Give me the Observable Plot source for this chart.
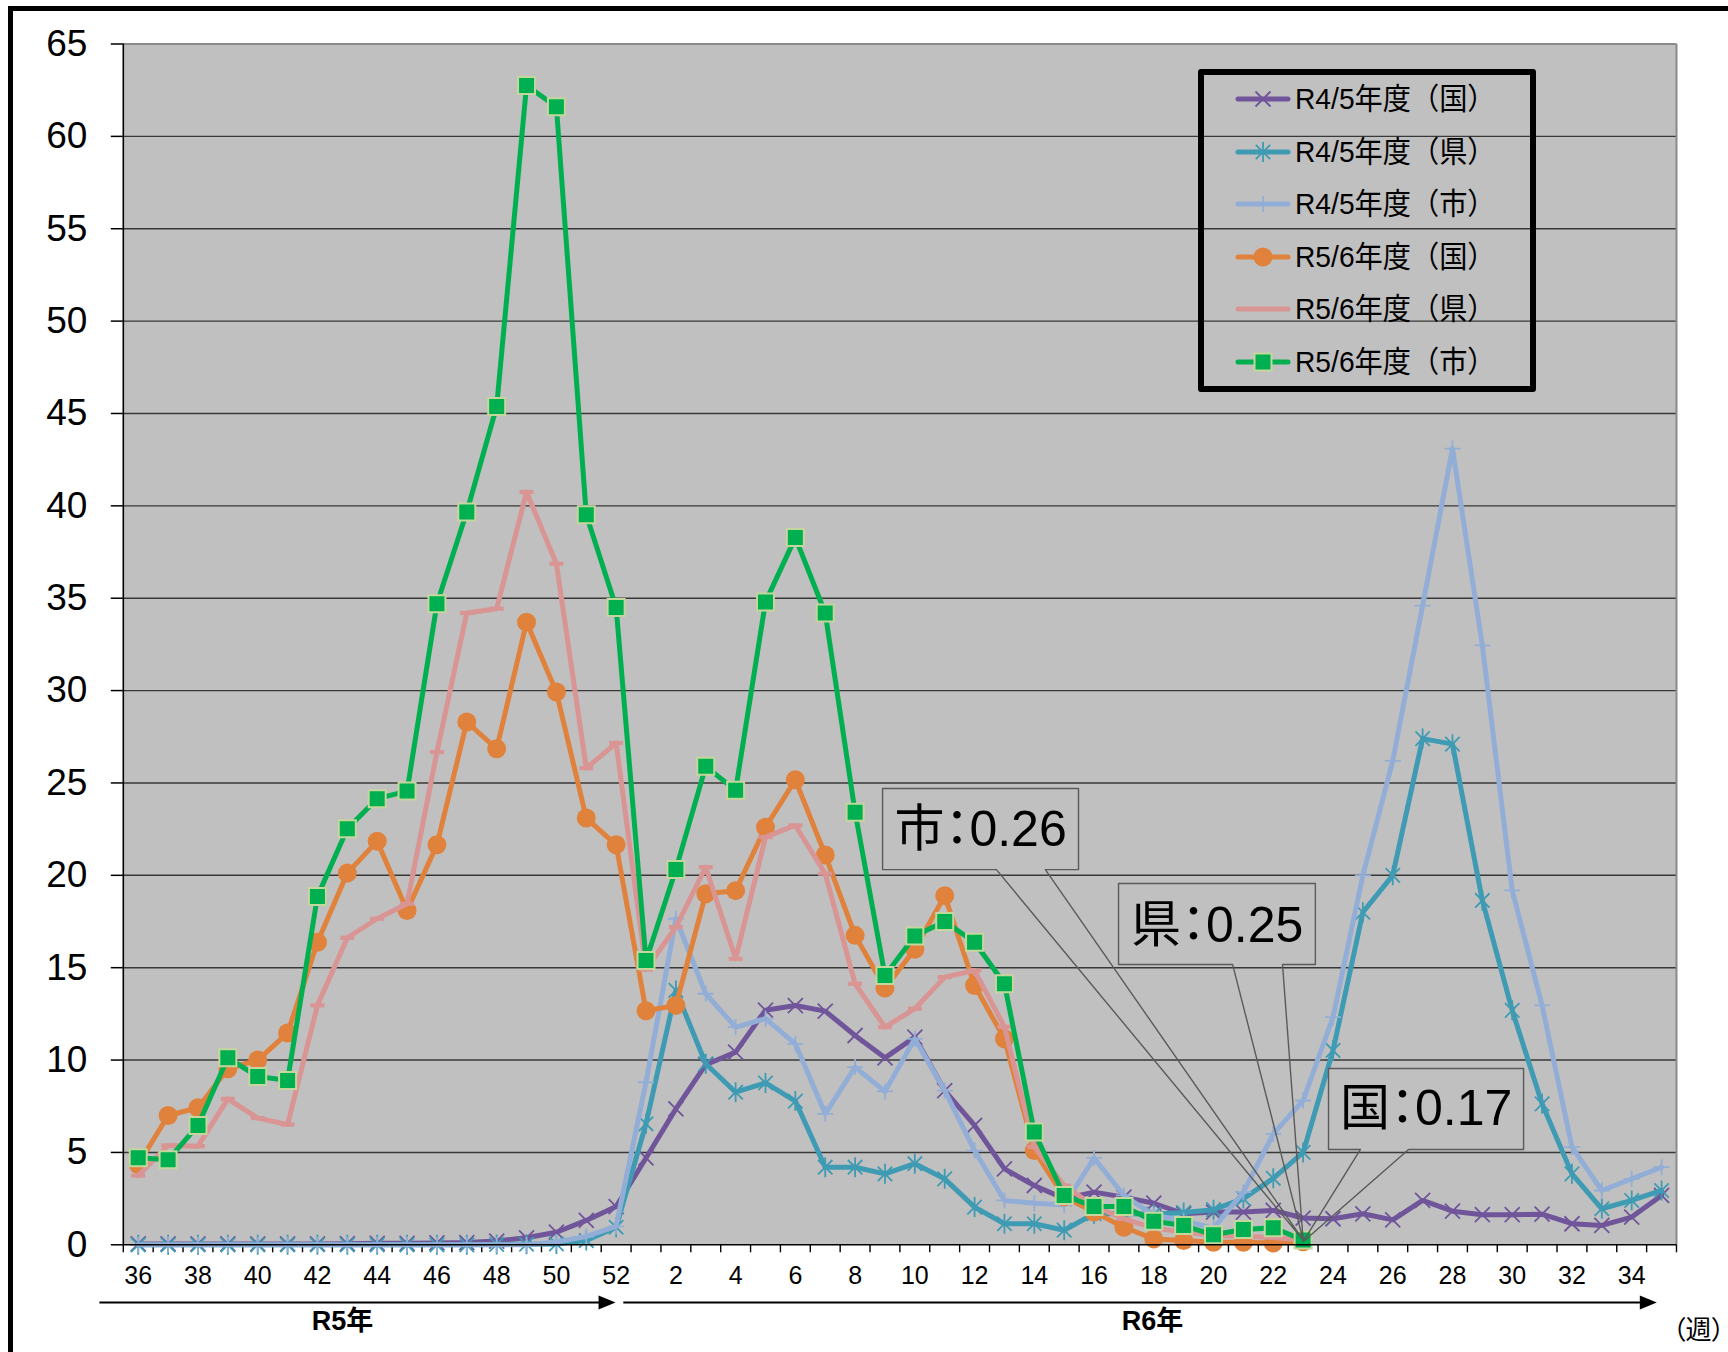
<!DOCTYPE html>
<html>
<head>
<meta charset="utf-8">
<script src="https://cdn.jsdelivr.net/npm/d3@7"></script>
<script src="https://cdn.jsdelivr.net/npm/@observablehq/plot@0.6"></script>
<style>
  body { margin: 0; background: #fff; }
  #wrap { position: relative; width: 1728px; height: 1352px; overflow: hidden; background: #fff; }
  #wrap > svg { position: absolute; left: 0; top: 0; }
  #frame { position: absolute; left: 8px; top: 6px; width: 1800px; height: 1400px;
           border-top: 5px solid #000; border-left: 5px solid #000; pointer-events: none; }
  #legend { position: absolute; left: 1198px; top: 69px; width: 338px; height: 323px;
            box-sizing: border-box; border: 6px solid #000; border-radius: 3px; }
  .lg-row { position: absolute; left: 0; height: 40px; width: 320px; }
  .lg-sw { position: absolute; left: 31px; top: 8px; overflow: visible; }
  .lg-text { position: absolute; left: 91px; top: 0; line-height: 40px; height: 40px;
             font-family: "Liberation Sans", "Noto Sans CJK JP", sans-serif; font-size: 30px;
             transform: scaleX(0.94); transform-origin: left center; white-space: nowrap;
             color: #000; }
</style>
</head>
<body>
<div id="wrap">
  <div id="frame"></div>
  <div id="legend"></div>
</div>
<script>
// ---- data ----
const weekLabels = [36,37,38,39,40,41,42,43,44,45,46,47,48,49,50,51,52,
  1,2,3,4,5,6,7,8,9,10,11,12,13,14,15,16,17,18,19,20,21,22,23,24,25,26,27,28,29,30,31,32,33,34,35];

const seriesNames = ["R4/5年度（国）","R4/5年度（県）","R4/5年度（市）","R5/6年度（国）","R5/6年度（県）","R5/6年度（市）"];

const r45Kuni = [0.05,0.05,0.05,0.05,0.05,0.05,0.05,0.06,0.08,0.08,0.1,0.12,0.2,0.38,0.68,1.32,2.07,
  4.7,7.36,9.75,10.43,12.7,12.95,12.65,11.33,10.12,11.24,8.35,6.46,4.11,3.21,2.5,2.85,2.58,2.25,1.68,1.77,1.77,1.86,1.45,1.41,1.68,1.35,2.4,1.82,1.63,1.63,1.66,1.14,1.05,1.5,2.67];
const r45Ken = [0,0,0,0,0,0,0,0,0,0,0,0,0.02,0.03,0.05,0.23,0.95,
  6.55,13.77,9.8,8.26,8.76,7.78,4.2,4.2,3.84,4.39,3.57,2.04,1.14,1.14,0.79,1.68,1.7,1.65,1.75,1.9,2.5,3.6,5.0,10.52,18.0,20.0,27.4,27.1,18.64,12.69,7.63,3.84,1.95,2.4,2.94];
const r45Shi = [0,0,0,0,0,0,0,0,0,0,0,0,0,0,0.15,0.45,1.0,
  8.8,17.65,13.59,11.78,12.24,10.88,7.09,9.62,8.3,11.15,8.35,5.1,2.4,2.25,2.15,4.7,2.67,1.6,1.3,0.9,2.85,6.0,7.81,12.32,20.0,26.2,34.6,43.1,32.45,19.18,12.96,5.29,2.94,3.57,4.2];
const r56Kuni = [4.35,7.0,7.42,9.53,10.0,11.46,16.38,20.12,21.85,18.1,21.65,28.3,26.85,33.7,29.92,23.1,21.65,
  12.67,12.96,19.0,19.17,22.6,25.17,21.1,16.75,13.9,16.0,18.9,14.04,11.15,5.1,2.6,1.77,0.95,0.32,0.23,0.14,0.14,0.1,0.17,
  null,null,null,null,null,null,null,null,null,null,null,null];
const r56Ken = [3.75,5.38,5.34,7.9,6.86,6.51,12.96,16.62,17.65,18.46,26.67,34.2,34.43,40.75,36.87,25.8,27.16,
  14.9,17.2,20.44,15.48,22.07,22.7,20.09,14.13,11.78,12.78,14.49,14.85,11.8,5.3,3.2,2.1,1.4,0.9,0.7,0.5,0.45,0.4,0.25,
  null,null,null,null,null,null,null,null,null,null,null,null];
const r56Shi = [4.71,4.6,6.46,10.12,9.11,8.9,18.86,22.52,24.15,24.56,34.7,39.67,45.38,62.75,61.6,39.52,34.5,
  15.39,20.32,25.9,24.6,34.8,38.28,34.2,23.42,14.58,16.72,17.5,16.38,14.13,6.1,2.67,2.07,2.07,1.28,1.04,0.54,0.83,0.92,0.26,
  null,null,null,null,null,null,null,null,null,null,null,null];

const yTicks = [0,5,10,15,20,25,30,35,40,45,50,55,60,65];
const yearLabels = ["R5年","R6年"];
const unitLabel = "（週）";
const calloutLabels = ["市：0.26","県：0.25","国：0.17"];
const calloutWeek = 23;
const calloutValues = [0.26, 0.25, 0.17];

// ---- styles ----
const colors = ["#70559A","#3E9BB3","#93AED6","#E0823C","#D99594","#00B050"];

const timesSym = {draw(c, s){const r=Math.sqrt(s/Math.PI); c.moveTo(-r,-r); c.lineTo(r,r); c.moveTo(-r,r); c.lineTo(r,-r);}};
const starSym  = {draw(c, s){const r=Math.sqrt(s/Math.PI), a=r*0.72; c.moveTo(-a,-a); c.lineTo(a,a); c.moveTo(-a,a); c.lineTo(a,-a); c.moveTo(0,-r); c.lineTo(0,r);}};
const plusSym  = {draw(c, s){const r=Math.sqrt(s/Math.PI); c.moveTo(-r,0); c.lineTo(r,0); c.moveTo(0,-r); c.lineTo(0,r);}};
const dashSym  = {draw(c, s){const r=Math.sqrt(s/Math.PI); c.rect(-r,-r*0.3,2*r,r*0.6);}};
const squareSym= {draw(c, s){const r=Math.sqrt(s/Math.PI); c.rect(-r,-r,2*r,2*r);}};
const circleSym= {draw(c, s){const r=Math.sqrt(s/Math.PI); c.moveTo(r,0); c.arc(0,0,r,0,2*Math.PI);}};
const headSym  = {draw(c, s){c.moveTo(0,0); c.lineTo(-17,-7); c.lineTo(-17,7); c.closePath();}};

const markerStyles = [
  {symbol: timesSym, r: 7.5, fill: "none", stroke: colors[0], strokeWidth: 1.8},
  {symbol: starSym, r: 10, fill: "none", stroke: colors[1], strokeWidth: 1.8},
  {symbol: plusSym, r: 8, fill: "none", stroke: colors[2], strokeWidth: 1.8},
  {symbol: circleSym, r: 9.5, fill: colors[3], stroke: "none"},
  {symbol: dashSym, r: 7, fill: colors[4], stroke: "none"},
  {symbol: squareSym, r: 8.5, fill: colors[5], stroke: "#C3D69B", strokeWidth: 2}
];

const allSeries = [r45Kuni, r45Ken, r45Shi, r56Kuni, r56Ken, r56Shi];
const rows = vals => vals.map((v, i) => ({i, v})).filter(d => d.v != null);

const seriesMarks = allSeries.flatMap((vals, k) => {
  const data = rows(vals);
  const ms = markerStyles[k];
  return [
    Plot.line(data, {x: "i", y: "v", stroke: colors[k], strokeWidth: 5, strokeLinejoin: "round", strokeLinecap: "round"}),
    Plot.dot(data, {x: "i", y: "v", symbol: ms.symbol, r: ms.r, fill: ms.fill, stroke: ms.stroke, strokeWidth: ms.strokeWidth || 1})
  ];
});

// callout geometry (data coordinates: x = week index, y = value)
const ci = weekLabels.indexOf(calloutWeek);
const boxes = [
  {x1: 24.92, x2: 31.48, y1: 20.31, y2: 24.70, bl: 28.73, br: 30.37, tx: 28.2, ty: 22.43},
  {x1: 32.82, x2: 39.41, y1: 15.17, y2: 19.56, bl: 36.64, br: 38.31, tx: 36.12, ty: 17.28},
  {x1: 39.85, x2: 46.38, y1: 5.16,  y2: 9.54,  bl: 40.92, br: 42.53, tx: 43.12, ty: 7.36}
];
const calloutMarks = boxes.flatMap((b, k) => {
  const poly = [[b.bl,b.y1],[b.x1,b.y1],[b.x1,b.y2],[b.x2,b.y2],[b.x2,b.y1],[b.br,b.y1],[ci,calloutValues[k]],[b.bl,b.y1]];
  return [
    Plot.rect([b], {x1: "x1", x2: "x2", y1: "y1", y2: "y2", fill: "#c0c0c0"}),
    Plot.line(poly, {x: d => d[0], y: d => d[1], stroke: "#5a5a5a", strokeWidth: 1.4, curve: "linear"}),
    Plot.text([calloutLabels[k]], {x: b.tx, y: b.ty, text: d => d, fontSize: 50, fill: "#000",
      fontFamily: "'Liberation Sans','Noto Sans CJK JP',sans-serif", textAnchor: "middle", lineAnchor: "middle"})
  ];
});

const boundaryTicks = d3.range(-0.5, weekLabels.length, 1);
const labelTicks = weekLabels.map((w, i) => i).filter(i => i % 2 === 0);
const n = weekLabels.length;

const arrowY = -3.12;
const arrows = [{x1: -1.3, x2: 15.98}, {x1: 16.24, x2: 50.84}];

const chart = Plot.plot({
  width: 1728, height: 1352,
  marginLeft: 122.8, marginRight: 52, marginTop: 43.5, marginBottom: 107.7,
  x: {type: "linear", domain: [-0.5, n - 0.5]},
  y: {domain: [0, 65]},
  style: {fontFamily: "'Liberation Sans','Noto Sans CJK JP',sans-serif", background: "transparent", overflow: "visible", color: "#000"},
  marks: [
    Plot.frame({fill: "#c0c0c0", stroke: null}),
    Plot.gridY(yTicks.filter(t => t > 0 && t < 65), {stroke: "#383838", strokeOpacity: 1, strokeWidth: 1.4}),
    Plot.ruleY([65], {stroke: "#8a8a8a", strokeWidth: 2}),
    Plot.ruleX([n - 0.5], {stroke: "#8a8a8a", strokeWidth: 2}),
    Plot.axisY(yTicks, {tickSize: 12, tickPadding: 24, fontSize: 37, label: null, strokeWidth: 1.5}),
    Plot.axisX(boundaryTicks, {tickSize: 8, tickFormat: () => "", label: null, strokeWidth: 1.4}),
    Plot.axisX(labelTicks, {tickSize: 0, tickPadding: 21, tickFormat: i => String(weekLabels[i]), fontSize: 25, label: null}),
    ...seriesMarks,
    Plot.ruleX([-0.5], {stroke: "#000", strokeWidth: 1.6}),
    Plot.ruleY([0], {stroke: "#000", strokeWidth: 1.6}),
    ...calloutMarks,
    Plot.link(arrows, {x1: "x1", x2: d => d.x2 - 0.4, y1: arrowY, y2: arrowY, stroke: "#000", strokeWidth: 2}),
    Plot.dot(arrows, {x: "x2", y: arrowY, symbol: headSym, r: 5, fill: "#000", stroke: "none"}),
    Plot.text(yearLabels, {x: [6.84, 33.96], y: -4.13, text: d => d, fontSize: 27, fontWeight: "bold", fill: "#000",
      textAnchor: "middle", lineAnchor: "middle"}),
    Plot.text([unitLabel], {x: 52.24, y: -4.64, text: d => d, fontSize: 26, fill: "#000",
      fontFamily: "'Noto Sans CJK JP',sans-serif", textAnchor: "middle", lineAnchor: "middle"})
  ]
});
chart.style.fontFeatureSettings = '"palt"';
document.getElementById("wrap").insertBefore(chart, document.getElementById("frame"));

// ---- legend ----
const legend = d3.select("#legend");
const rowCenters = [24, 77, 129, 182, 234, 287];
seriesNames.forEach((name, k) => {
  const row = legend.append("div").attr("class", "lg-row").style("top", (rowCenters[k] - 20) + "px");
  const svg = row.append("svg").attr("class", "lg-sw").attr("width", 56).attr("height", 24);
  svg.append("line").attr("x1", 3).attr("x2", 53).attr("y1", 12).attr("y2", 12)
    .attr("stroke", colors[k]).attr("stroke-width", 5).attr("stroke-linecap", "round");
  const ms = markerStyles[k];
  svg.append("path").attr("transform", "translate(28,12)")
    .attr("d", d3.symbol().type(ms.symbol).size(Math.PI * ms.r * ms.r)())
    .attr("fill", ms.fill).attr("stroke", ms.stroke).attr("stroke-width", ms.strokeWidth || 1);
  row.append("div").attr("class", "lg-text").text(name);
});
</script>
</body>
</html>
